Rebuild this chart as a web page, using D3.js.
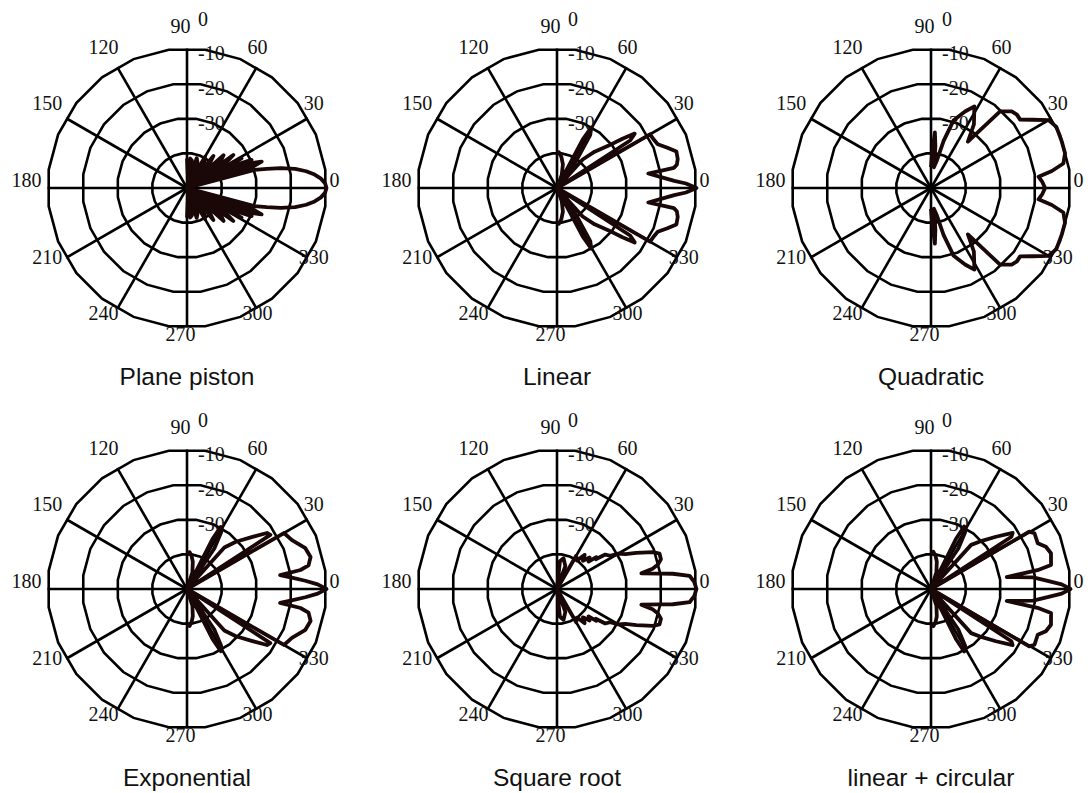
<!DOCTYPE html>
<html>
<head>
<meta charset="utf-8">
<script src="https://cdn.jsdelivr.net/npm/d3@7"></script>
<style>
  body { margin: 0; background: #fff; }
  .angle-label, .db-label {
    font-family: 'Liberation Serif', 'Times New Roman', serif;
    font-size: 20px;
    fill: #111;
  }
  .title {
    font-family: 'Liberation Sans', Arial, sans-serif;
    font-size: 24.5px;
    fill: #111;
  }
</style>
</head>
<body>
<svg id="chart" width="1088" height="793"></svg>
<script>
// axis ticks
const angleTicks = [0, 30, 60, 90, 120, 150, 180, 210, 240, 270, 300, 330];
const dbTicks = [0, -10, -20, -30];
const dbMin = -40;

const titles = ['Plane piston', 'Linear', 'Quadratic', 'Exponential', 'Square root', 'linear + circular'];

// beam patterns, read from 0 to 90 deg (patterns are symmetric about 0 deg)
const pistonAngles = [0, 2, 4, 6, 8, 10, 12, 13.5, 15, 16.5, 18, 19.5, 21, 22, 23.5, 25, 26.5, 28.5, 31, 33.5, 35.5, 38, 40, 42, 45, 48, 50.5, 54, 57, 60, 64, 68, 72, 76, 80, 84, 87, 90];
const pistonDb     = [0, -0.4, -1.5, -3.2, -5.5, -8.5, -12.5, -16.5, -20, -40, -20, -17.3, -20, -40, -19.8, -24, -40, -22.2, -40, -26, -23.7, -40, -27, -25.9, -40, -30, -28.1, -40, -31, -29.7, -40, -32, -31, -40, -32, -31.5, -36, -31.5];

const linearAngles = [0, 2, 3.5, 6, 9, 9.8, 11, 13.5, 17, 20, 23.5, 27, 30, 31.5, 33, 35, 37, 39.5, 44, 48, 51, 55, 58, 60.5, 62, 63.5, 70, 76, 82, 87, 90];
const linearDb     = [0, -3, -6.3, -10, -13.5, -6, -5, -4.4, -4.2, -6.3, -8.5, -9, -9.2, -40, -15, -12.8, -16.5, -21, -25, -29, -40, -30, -22, -20, -24, -40, -36, -33, -31, -29.7, -30];

const quadAngles = [0, 3, 6, 8, 10.5, 14.5, 19.5, 26, 30, 34, 37.5, 40.5, 43.5, 48, 51.5, 56, 62, 66, 71.5, 75, 78, 82, 84, 86, 88, 90];
const quadDb     = [-7.3, -8, -9, -5, -1.4, -0.3, -0.2, 0, -1.1, -5, -7.8, -7.6, -8.1, -10.4, -23, -18, -13.5, -16, -19.5, -26, -32, -34, -28, -24, -30, -34];

const expAngles = [0, 2, 4, 6, 8.5, 9.5, 11, 14.5, 19, 25, 30, 31.5, 33, 35, 38.5, 44, 48, 51, 56, 59, 61.5, 63, 64.5, 72, 78, 82, 86, 90];
const expDb     = [0, -2.5, -6, -9.5, -13, -7, -4.5, -3.4, -4.1, -6.8, -7.9, -40, -11.5, -12, -16, -20.5, -24, -40, -26, -21, -19.7, -24, -40, -35, -32, -30.5, -29.4, -30];

const sqrtAngles = [0, 3, 5.7, 7.5, 8.5, 10.5, 12, 13.5, 16, 19, 21, 24.5, 27, 30, 32, 35.5, 37.5, 39, 41, 44, 47.5, 51, 55, 60, 63, 70, 78, 84, 90];
const sqrtDb     = [0, -0.6, -1.8, -6.5, -10, -15.4, -12, -10.3, -9, -8.9, -10.5, -15, -18, -19.7, -22, -23, -26, -25.5, -28, -27, -29, -27.4, -30, -29, -40, -33, -31, -32, -40];

const linCircAngles = [0, 2, 4, 6.5, 9, 10, 11.3, 16.6, 20.2, 23.2, 28.3, 30.3, 31.5, 33, 34.5, 38.8, 44.4, 47.7, 51, 56, 59, 62, 63.5, 65, 72, 78, 82, 86.5, 90];
const linCircDb     = [0, -2.5, -6.5, -10.5, -18, -9, -4.9, -4.1, -4.9, -6.7, -6.3, -7.4, -40, -12.5, -11.6, -16.1, -20.6, -22.9, -40, -26, -21, -19.7, -24, -40, -35, -32, -30.5, -29.3, -30];

const patterns = [
  [pistonAngles, pistonDb],
  [linearAngles, linearDb],
  [quadAngles, quadDb],
  [expAngles, expDb],
  [sqrtAngles, sqrtDb],
  [linCircAngles, linCircDb]
];

const colX = [187, 557, 931];
const rowY = [188, 589];
const outerR = 139.5;

const svg = d3.select('#chart');

//Scales
const rScale = d3.scaleLinear()
                 .domain([dbMin, 0])
                 .range([0, outerR])
                 .clamp(true);
// degrees counter-clockwise from east -> d3 radial angle (clockwise from north)
const angleScale = d3.scaleLinear()
                     .domain([0, 360])
                     .range([Math.PI / 2, Math.PI / 2 - 2 * Math.PI]);

const ringLine = d3.lineRadial()
                   .angle(d => angleScale(d[0]))
                   .radius(d => d[1])
                   .curve(d3.curveLinearClosed);

const traceLine = d3.lineRadial()
                    .angle(d => angleScale(d.angle))
                    .radius(d => rScale(d.db))
                    .curve(d3.curveLinear);

patterns.forEach(([angles, dbs], i) => {
  const cx = colX[i % 3];
  const cy = rowY[Math.floor(i / 3)];

  const upper = angles.map((a, j) => ({ angle: a, db: dbs[j] }));
  const lower = upper.slice(1).reverse().map(d => ({ angle: -d.angle, db: d.db }));
  const trace = lower.concat(upper);

  const g = svg.append('g')
               .attr('transform', `translate(${cx},${cy})`);

  //Rings (drawn as 24-sided polygons)
  g.selectAll('path.ring')
   .data(dbTicks)
   .enter()
   .append('path')
   .attr('class', 'ring')
   .attr('d', t => ringLine(d3.range(24).map(k => [7.5 + k * 15, rScale(t)])))
   .attr('fill', 'none')
   .attr('stroke', '#000')
   .attr('stroke-width', 2.6);

  //Spokes
  g.selectAll('line.spoke')
   .data(angleTicks)
   .enter()
   .append('line')
   .attr('class', 'spoke')
   .attr('x1', 0)
   .attr('y1', 0)
   .attr('x2', a => d3.pointRadial(angleScale(a), outerR)[0])
   .attr('y2', a => d3.pointRadial(angleScale(a), outerR)[1])
   .attr('stroke', '#000')
   .attr('stroke-width', 2.6);

  //Angle labels
  g.selectAll('text.angle-label')
   .data(angleTicks)
   .enter()
   .append('text')
   .attr('class', 'angle-label')
   .attr('x', a => d3.pointRadial(angleScale(a), 154)[0] - 6.5)
   .attr('y', a => d3.pointRadial(angleScale(a), 154)[1] - 8)
   .attr('text-anchor', 'middle')
   .attr('dominant-baseline', 'central')
   .text(a => a);

  //dB labels
  g.selectAll('text.db-label')
   .data(dbTicks)
   .enter()
   .append('text')
   .attr('class', 'db-label')
   .attr('x', 11)
   .attr('y', t => -rScale(t) - 30)
   .attr('dominant-baseline', 'central')
   .text(t => t);

  //Beam pattern
  g.append('path')
   .datum(trace)
   .attr('d', traceLine)
   .attr('fill', 'none')
   .attr('stroke', '#1a0707')
   .attr('stroke-width', 3.8)
   .attr('stroke-linejoin', 'round');

  //Title
  g.append('text')
   .attr('class', 'title')
   .attr('x', 0)
   .attr('y', 197)
   .attr('text-anchor', 'middle')
   .text(titles[i]);
});
</script>
</body>
</html>
